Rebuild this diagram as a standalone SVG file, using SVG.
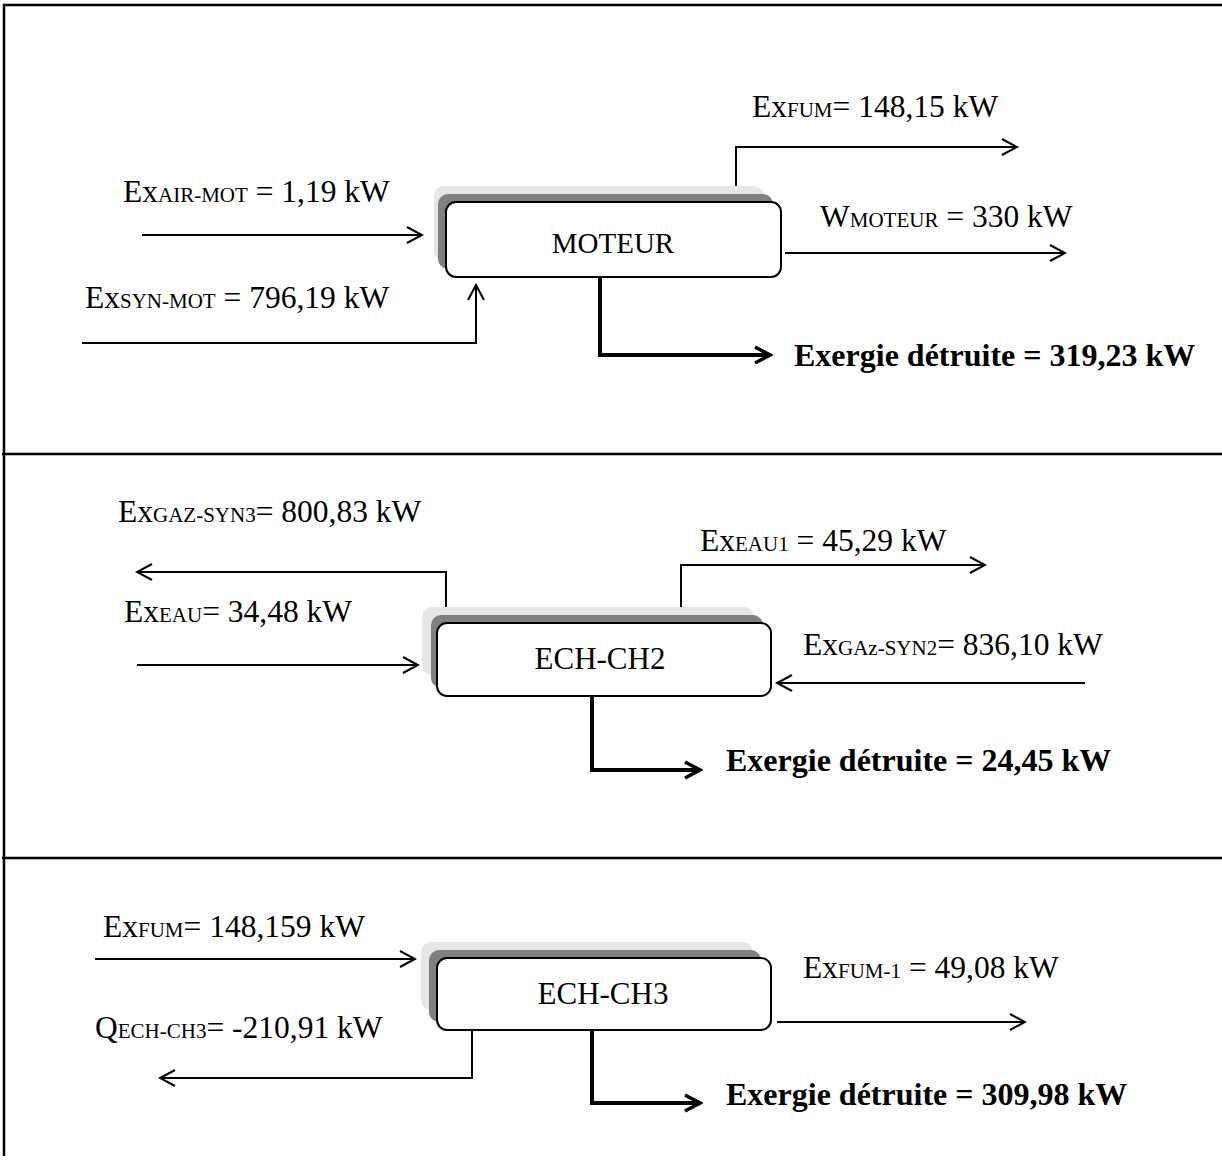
<svg xmlns="http://www.w3.org/2000/svg" width="1222" height="1160" viewBox="0 0 1222 1160">
<style>
text{font-family:"Liberation Serif","Times New Roman",serif;fill:#000}
.lbl{font-size:31.5px}
.sub{font-size:21px}
.box{font-size:29px;text-anchor:middle}
.box2{font-size:31px;text-anchor:middle}
.bold{font-size:32px;font-weight:bold}
.frame{stroke:#000;stroke-width:2.5;fill:none}
.thin{stroke:#000;stroke-width:2;fill:none}
.thick{stroke:#000;stroke-width:4;fill:none}
.sh1{fill:#e6e6e6}
.sh2{fill:#808080}
.main{fill:#fff;stroke:#000;stroke-width:2}
</style>
<defs>
<marker id="a" markerUnits="userSpaceOnUse" viewBox="0 0 20 20" refX="18" refY="10" markerWidth="20" markerHeight="20" orient="auto">
<path d="M3,2 L18,10 L3,18" fill="none" stroke="#000" stroke-width="2"/>
</marker>
<marker id="b" markerUnits="userSpaceOnUse" viewBox="0 0 22 22" refX="19" refY="11" markerWidth="22" markerHeight="22" orient="auto">
<path d="M4,3 L19,11 L4,19" fill="none" stroke="#000" stroke-width="3.5"/>
</marker>
</defs>
<g id="frame">
<path class="frame" d="M1222,5 H4 V1156"/>
<line class="frame" x1="2" y1="454" x2="1222" y2="454"/>
<line class="frame" x1="2" y1="858" x2="1222" y2="858"/>
</g>
<g id="connectors">
<line class="thin" x1="142" y1="235" x2="422" y2="235" marker-end="url(#a)"/>
<polyline class="thin" points="82,343 476,343 476,285" marker-end="url(#a)"/>
<polyline class="thin" points="736,197 736,147 1017,147" marker-end="url(#a)"/>
<line class="thin" x1="785" y1="253" x2="1065" y2="253" marker-end="url(#a)"/>
<polyline class="thick" points="600,277 600,355 770,355" marker-end="url(#b)"/>
<polyline class="thin" points="446,607 446,572 137,572" marker-end="url(#a)"/>
<line class="thin" x1="137" y1="665" x2="418" y2="665" marker-end="url(#a)"/>
<polyline class="thin" points="681,615 681,565 985,565" marker-end="url(#a)"/>
<line class="thin" x1="1085" y1="683" x2="777" y2="683" marker-end="url(#a)"/>
<polyline class="thick" points="592,696 592,770 700,770" marker-end="url(#b)"/>
<line class="thin" x1="95" y1="959" x2="415" y2="959" marker-end="url(#a)"/>
<line class="thin" x1="777" y1="1022" x2="1025" y2="1022" marker-end="url(#a)"/>
<polyline class="thin" points="472,1030 472,1078 160,1078" marker-end="url(#a)"/>
<polyline class="thick" points="592,1030 592,1103 700,1103" marker-end="url(#b)"/>
</g>
<g id="moteur">
<rect class="sh1" x="434" y="186" width="330" height="75" rx="10"/>
<rect class="sh2" x="438" y="194" width="335" height="75" rx="10"/>
<rect class="main" x="446" y="202" width="335" height="75" rx="10"/>
<text class="box" x="613" y="253">MOTEUR</text>
</g>
<g id="ech-ch2">
<rect class="sh1" x="422" y="607" width="332" height="68" rx="10"/>
<rect class="sh2" x="431" y="615" width="332" height="73" rx="10"/>
<rect class="main" x="437" y="623" width="334" height="73" rx="10"/>
<text class="box2" x="600" y="669">ECH-CH2</text>
</g>
<g id="ech-ch3">
<rect class="sh1" x="421" y="942" width="332" height="68" rx="10"/>
<rect class="sh2" x="429" y="950" width="332" height="72" rx="10"/>
<rect class="main" x="437" y="958" width="334" height="72" rx="10"/>
<text class="box2" x="603" y="1004">ECH-CH3</text>
</g>
<g id="labels">
<text class="lbl" x="123" y="202">Ex<tspan class="sub">AIR-MOT</tspan> = 1,19 kW</text>
<text class="lbl" x="85" y="308">Ex<tspan class="sub">SYN-MOT</tspan> = 796,19 kW</text>
<text class="lbl" x="752" y="117">Ex<tspan class="sub">FUM</tspan>= 148,15 kW</text>
<text class="lbl" x="820" y="227">W<tspan class="sub">MOTEUR</tspan> = 330 kW</text>
<text class="bold" x="794" y="366">Exergie détruite = 319,23 kW</text>
<text class="lbl" x="118" y="522">Ex<tspan class="sub">GAZ-SYN3</tspan>= 800,83 kW</text>
<text class="lbl" x="124" y="622">Ex<tspan class="sub">EAU</tspan>= 34,48 kW</text>
<text class="lbl" x="700" y="551">Ex<tspan class="sub">EAU1</tspan> = 45,29 kW</text>
<text class="lbl" x="803" y="655">Ex<tspan class="sub">GAz-SYN2</tspan>= 836,10 kW</text>
<text class="bold" x="726" y="771">Exergie détruite = 24,45 kW</text>
<text class="lbl" x="103" y="937">Ex<tspan class="sub">FUM</tspan>= 148,159 kW</text>
<text class="lbl" x="803" y="978">Ex<tspan class="sub">FUM-1</tspan> = 49,08 kW</text>
<text class="lbl" x="95" y="1038">Q<tspan class="sub">ECH-CH3</tspan>= -210,91 kW</text>
<text class="bold" x="726" y="1105">Exergie détruite = 309,98 kW</text>
</g>
</svg>
